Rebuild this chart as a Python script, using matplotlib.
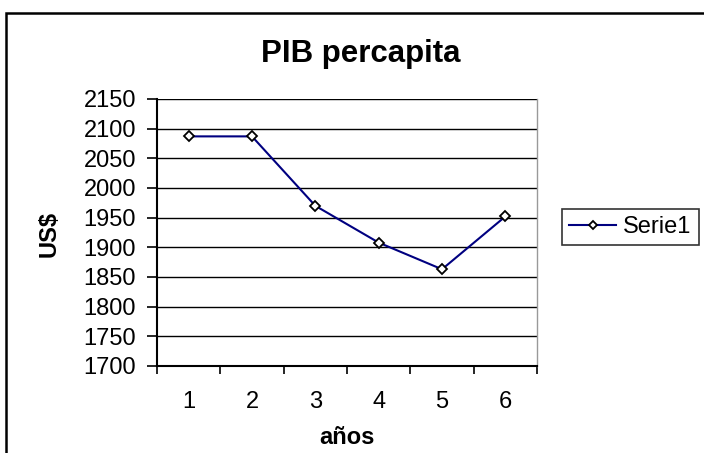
import matplotlib
matplotlib.use("Agg")
import matplotlib.pyplot as plt
from matplotlib.patches import Rectangle
from matplotlib.ticker import FixedLocator

plt.rcParams['font.family'] = ['Liberation Sans', 'DejaVu Sans']

years = [1, 2, 3, 4, 5, 6]
pib = [2087, 2087, 1970, 1908, 1863, 1952]
yticks = list(range(1700, 2151, 50))

W, H = 704, 453
fig = plt.figure(figsize=(W / 100, H / 100), dpi=100)

# outer chart frame
fig.patches.append(Rectangle((6 / W, -0.05), 1.1, 1 - 13 / H + 0.05, transform=fig.transFigure,
                             fill=False, edgecolor='black', linewidth=1.8))

ax = fig.add_axes([157 / W, 1 - 366 / H, (537 - 157) / W, (366 - 99) / H])
ax.plot(years, pib, color='#000080', linewidth=1.5, marker='D', markersize=5,
        markerfacecolor='white', markeredgecolor='black', markeredgewidth=1.3,
        label='Serie1')

ax.set_xlim(0.5, 6.5)
ax.set_ylim(1700, 2150)
ax.set_yticks(yticks)
ax.set_xticks(years)
ax.xaxis.set_minor_locator(FixedLocator([i + 0.5 for i in range(0, 7)]))
ax.tick_params(axis='x', which='major', length=0, labelsize=17, pad=18)
ax.tick_params(axis='x', which='minor', length=6, width=1.2, direction='out')
ax.tick_params(axis='y', which='major', length=7, width=1.2, direction='out', labelsize=17, pad=8)
ax.grid(axis='y', color='black', linewidth=1.0)
ax.set_axisbelow(True)

for s in ['left', 'bottom']:
    ax.spines[s].set_linewidth(1.5)
    ax.spines[s].set_color('black')
ax.spines['top'].set_visible(False)
ax.spines['right'].set_color('#999999')
ax.spines['right'].set_linewidth(1.0)

fig.text(347 / W, 1 - 437 / H, 'años', ha='center', va='center',
         fontsize=17, fontweight='bold')
fig.text(49 / W, 1 - 234 / H, 'US$', ha='center', va='center', rotation=90,
         fontsize=17, fontweight='bold')

fig.text(361 / W, 1 - 61.7 / H, 'PIB percapita', ha='center', va='baseline',
         fontsize=22.5, fontweight='bold')

leg = ax.legend(loc='center left', bbox_to_anchor=(562 / W, 1 - 227 / H),
                bbox_transform=fig.transFigure, frameon=True, fancybox=False,
                fontsize=17, handlelength=2.0, borderpad=0.3, handletextpad=0.3,
                borderaxespad=0, markerscale=0.8)
leg.get_frame().set_edgecolor('black')
leg.get_frame().set_linewidth(1.2)

fig.savefig('out.png', dpi=100)
